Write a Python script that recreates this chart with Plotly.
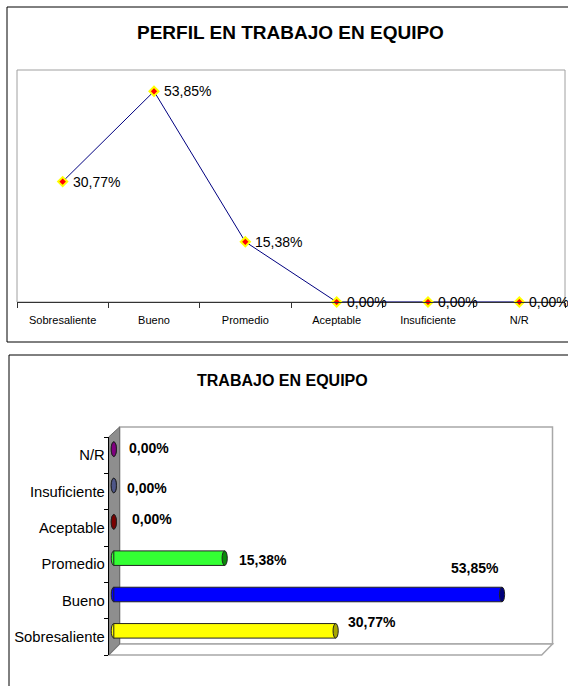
import plotly.graph_objects as go

# datos
categorias = ["Sobresaliente", "Bueno", "Promedio", "Aceptable", "Insuficiente", "N/R"]
porcentajes = [30.77, 53.85, 15.38, 0.00, 0.00, 0.00]

titulo_linea = "PERFIL EN TRABAJO EN EQUIPO"
titulo_barras = "TRABAJO EN EQUIPO"

# estilos de las barras
colores_barra = ["#FFFF00", "#0000FF", "#33FF33", "#990000", "#6670A8", "#990099"]
colores_tapa = ["#A6A600", "#00007A", "#0A8A0A", "#7A0000", "#4E5688", "#800080"]
# desplazamiento (px) de cada etiqueta respecto al final de la barra
despl_etiq = [(36, 9), (-27, 27), (38, -2), (38, 3), (33, -2), (35, 1)]

W, H = 568, 686
FONT = "Liberation Sans, Arial, sans-serif"


def px(x):
    return x / W


def py(y):
    return 1 - y / H


def fmt(v):
    return ("%.2f" % v).replace(".", ",") + "%"


etiquetas = [fmt(v) for v in porcentajes]

fig = go.Figure()

# ---- grafica de linea ----
fig.add_trace(go.Scatter(
    x=categorias, y=porcentajes, xaxis="x", yaxis="y",
    mode="lines+markers",
    line=dict(color="#000080", width=1),
    marker=dict(symbol="diamond", size=7, color="#FF0000",
                line=dict(color="#FFFF00", width=2)),
    cliponaxis=False, hoverinfo="skip"
))

# ---- grafica de barras ----
idx = list(range(len(categorias)))
fig.add_trace(go.Bar(
    x=porcentajes, y=idx, orientation="h", xaxis="x3", yaxis="y3",
    width=0.4, base=0,
    marker=dict(color=colores_barra, line=dict(color="#222", width=1)),
    cliponaxis=False, hoverinfo="skip"
))
# traza auxiliar para las etiquetas del eje de categorias
fig.add_trace(go.Scatter(
    x=[0] * len(categorias), y=categorias, xaxis="x4", yaxis="y4",
    mode="markers", marker=dict(opacity=0), hoverinfo="skip"
))

shapes = []
# marco grafica superior
shapes.append(dict(type="rect", xref="paper", yref="paper",
                   x0=px(7), x1=px(580), y0=py(342), y1=py(7),
                   line=dict(color="#000", width=1), layer="below"))
shapes.append(dict(type="rect", xref="x domain", yref="y domain",
                   x0=0, x1=1, y0=0, y1=1,
                   line=dict(color="#A0A0A0", width=1), layer="below"))
# marco grafica inferior
shapes.append(dict(type="rect", xref="paper", yref="paper",
                   x0=px(9), x1=px(580), y0=py(700), y1=py(355),
                   line=dict(color="#000", width=1), layer="below"))


def path(pts):
    return "M " + " L ".join("%f,%f" % (px(a), py(b)) for a, b in pts) + " Z"


# pared del fondo, suelo y pared lateral (3D)
shapes.append(dict(type="rect", xref="paper", yref="paper",
                   x0=px(119.6), x1=px(552.5), y0=py(644), y1=py(427),
                   fillcolor="#FFFFFF", line=dict(color="#A8A8A8", width=1.5),
                   layer="below"))
shapes.append(dict(type="path", xref="paper", yref="paper",
                   path=path([(108.7, 655), (119.6, 644), (552.5, 644), (541.7, 655)]),
                   fillcolor="#FFFFFF", line=dict(color="#A8A8A8", width=1.5),
                   layer="below"))
shapes.append(dict(type="path", xref="paper", yref="paper",
                   path=path([(108.7, 437), (119.6, 427), (119.6, 644), (108.7, 655)]),
                   fillcolor="#8E8E8E", line=dict(color="#6A6A6A", width=1),
                   layer="below"))

# tapas de los cilindros
rx, ry = 0.36, 0.2
for i, v in enumerate(porcentajes):
    shapes.append(dict(type="circle", xref="x3", yref="y3",
                       x0=-rx, x1=rx, y0=i - ry, y1=i + ry,
                       fillcolor=colores_barra[i], line=dict(color="#222", width=1),
                       layer="below"))
    shapes.append(dict(type="circle", xref="x3", yref="y3",
                       x0=v - rx, x1=v + rx, y0=i - ry, y1=i + ry,
                       fillcolor=colores_tapa[i], line=dict(color="#222", width=1),
                       layer="above"))

annotations = [
    dict(text="<b>%s</b>" % titulo_linea, xref="paper", yref="paper",
         x=px(290), y=py(33), xanchor="center", yanchor="middle", showarrow=False,
         font=dict(family=FONT, size=19, color="#000")),
    dict(text="<b>%s</b>" % titulo_barras, xref="paper", yref="paper",
         x=px(282), y=py(380), xanchor="center", yanchor="middle", showarrow=False,
         font=dict(family=FONT, size=16, color="#000")),
]
# etiquetas de la linea
for c, v, t in zip(categorias, porcentajes, etiquetas):
    annotations.append(dict(text=t, xref="x", yref="y", x=c, y=v,
                            xanchor="left", yanchor="middle", xshift=8,
                            showarrow=False,
                            font=dict(family=FONT, size=14, color="#000")))
# etiquetas de las barras
for i, v in enumerate(porcentajes):
    dx, dy = despl_etiq[i]
    annotations.append(dict(text="<b>%s</b>" % etiquetas[i], xref="x3", yref="y3",
                            x=v, y=i, xshift=dx, yshift=dy, showarrow=False,
                            xanchor="center", yanchor="middle",
                            font=dict(family=FONT, size=14, color="#000")))

fig.update_layout(
    width=W, height=H,
    margin=dict(l=0, r=0, t=0, b=0),
    paper_bgcolor="white", plot_bgcolor="rgba(0,0,0,0)",
    showlegend=False,
    font=dict(family=FONT, color="#000"),
    xaxis=dict(domain=[px(17), px(565)], anchor="y", type="category",
               range=[-0.5, 5.5],
               showline=True, linecolor="#333", linewidth=1,
               ticks="outside", tickson="boundaries", ticklen=5, tickcolor="#333",
               tickfont=dict(size=11), ticklabelstandoff=8,
               showgrid=False, zeroline=False, fixedrange=True),
    yaxis=dict(domain=[py(302), py(70)], anchor="x", range=[0, 59.3],
               showticklabels=False, showgrid=False, zeroline=False,
               ticks="", showline=False),
    xaxis3=dict(domain=[px(110.2), px(541.7)], anchor="y3", range=[-0.5, 59.35],
                visible=False),
    yaxis3=dict(domain=[py(649), py(431)], anchor="x3", range=[-0.5, 5.5],
                visible=False),
    xaxis4=dict(domain=[px(108.7), px(541.7)], anchor="y4", range=[0, 1],
                visible=False),
    yaxis4=dict(domain=[py(655), py(437)], anchor="x4", type="category",
                categoryorder="array", categoryarray=categorias,
                range=[-0.5, 5.5],
                showline=True, linecolor="#000", linewidth=1,
                ticks="outside", tickson="boundaries", ticklen=4, tickcolor="#000",
                tickfont=dict(size=14.8), showgrid=False, zeroline=False),
    shapes=shapes,
    annotations=annotations,
)

fig.write_html("out.html", config={"displayModeBar": False},
               post_script="document.body.style.margin='0';")
